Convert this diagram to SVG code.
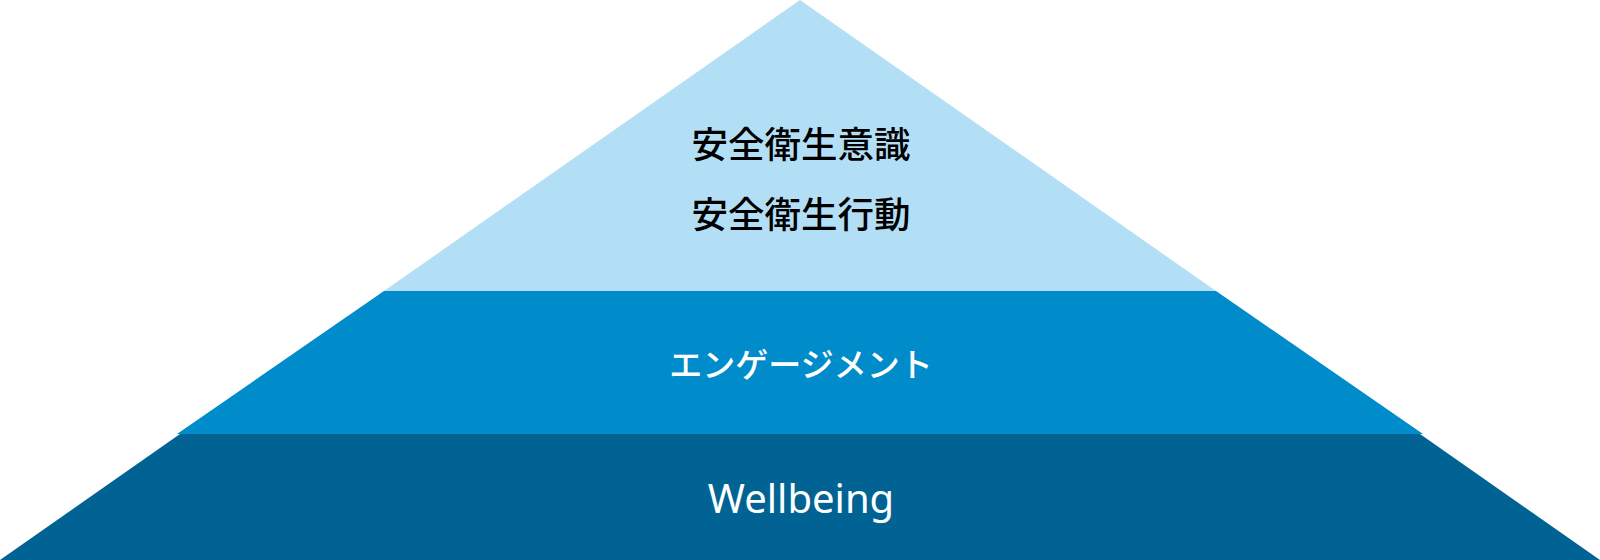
<svg xmlns="http://www.w3.org/2000/svg" width="1600" height="560" viewBox="0 0 1600 560">
  <style>
    .t { font-family: "Noto Sans", "Noto Sans CJK JP", sans-serif; text-anchor: middle; }
    .dark { fill: #000000; font-size: 36.5px; font-weight: 500; }
    .light { fill: #ffffff; font-size: 33px; font-weight: 500; }
    .en { fill: #ffffff; font-size: 40px; }
  </style>
  <rect width="1600" height="560" fill="#ffffff"/>
  <g id="layer-top">
    <polygon points="800,0 1216,291 384,291" fill="#B3DFF6"/>
    <text class="t dark" x="801" y="158">安全衛生意識</text>
    <text class="t dark" x="801" y="228">安全衛生行動</text>
  </g>
  <g id="layer-middle">
    <polygon points="384,291 1216,291 1423,434 177,434" fill="#008BCB"/>
    <text class="t light" x="801" y="377">エンゲージメント</text>
  </g>
  <g id="layer-bottom">
    <polygon points="180,434 1420,434 1600,560 0,560" fill="#006393"/>
    <text class="t en" x="801" y="513">Wellbeing</text>
  </g>
  <g id="connectors"></g>
</svg>
